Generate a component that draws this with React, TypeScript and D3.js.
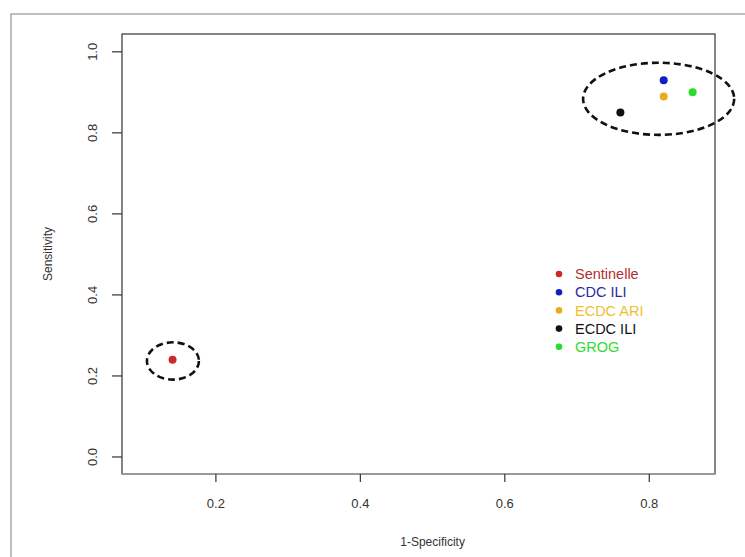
import React from "react";
import * as d3 from "d3";

const width = 745;
const height = 557;
const margin = { top: 34, right: 30, bottom: 83, left: 122 };

// points
const names = ["Sentinelle", "CDC ILI", "ECDC ARI", "ECDC ILI", "GROG"];
const specificity = [0.14, 0.82, 0.82, 0.76, 0.86];
const sensitivity = [0.24, 0.93, 0.89, 0.85, 0.9];
const pointColors = ["#cc2a2a", "#1020c8", "#e8ac1c", "#111111", "#28dc28"];
const labelColors = ["#b03030", "#2a2aa0", "#f0c030", "#111111", "#30dd30"];

// dashed ellipses around the groups (centre and radii in data units)
const ellipseCx = [0.1405, 0.813];
const ellipseCy = [0.237, 0.884];
const ellipseRx = [0.036, 0.1046];
const ellipseRy = [0.046, 0.089];

const xTicks = [0.2, 0.4, 0.6, 0.8];
const yTicks = [0, 0.2, 0.4, 0.6, 0.8, 1.0];

const xScale = d3
  .scaleLinear()
  .domain([0.07, 0.891])
  .range([margin.left, width - margin.right]);
const yScale = d3
  .scaleLinear()
  .domain([-0.042, 1.044])
  .range([height - margin.bottom, margin.top]);

const font = "'Liberation Sans', Arial, sans-serif";

export default function App() {
  const x0 = margin.left;
  const x1 = width - margin.right;
  const y0 = height - margin.bottom;
  const y1 = margin.top;
  return (
    <svg
      width={width}
      height={height}
      style={{ position: "absolute", left: 0, top: 0, background: "#fff" }}
    >
      {/* outer frame */}
      <rect x={11} y={14} width={width} height={height} fill="none" stroke="#a8a8a8" strokeWidth={1.5} />

      {/* plot box */}
      <rect x={x0} y={y1} width={x1 - x0} height={y0 - y1} fill="none" stroke="#333" strokeWidth={1.2} />
      <line x1={x0} x2={x1} y1={y0} y2={y0} stroke="#999" strokeWidth={2} />

      {/* x axis */}
      {xTicks.map((t) => (
        <g key={"x" + t}>
          <line x1={xScale(t)} x2={xScale(t)} y1={y0} y2={y0 + 8} stroke="#333" strokeWidth={1.2} />
          <text
            x={xScale(t)}
            y={y0 + 34}
            textAnchor="middle"
            fontFamily={font}
            fontSize={13}
            fill="#333"
          >
            {t.toFixed(1)}
          </text>
        </g>
      ))}
      <text x={(xScale(0.2) + xScale(0.8)) / 2} y={546} textAnchor="middle" fontFamily={font} fontSize={12} fill="#333">
        1-Specificity
      </text>

      {/* y axis */}
      {yTicks.map((t) => (
        <g key={"y" + t}>
          <line x1={x0} x2={x0 - 10} y1={yScale(t)} y2={yScale(t)} stroke="#333" strokeWidth={1.2} />
          <text
            transform={`translate(${x0 - 30},${yScale(t)}) rotate(-90)`}
            textAnchor="middle"
            dy="0.35em"
            fontFamily={font}
            fontSize={13}
            fill="#333"
          >
            {t.toFixed(1)}
          </text>
        </g>
      ))}
      <text
        transform={`translate(48,${(y0 + y1) / 2}) rotate(-90)`}
        textAnchor="middle"
        dy="0.35em"
        fontFamily={font}
        fontSize={12}
        fill="#333"
      >
        Sensitivity
      </text>

      {/* ellipses */}
      {ellipseCx.map((cx, i) => (
        <ellipse
          key={"e" + i}
          cx={xScale(cx)}
          cy={yScale(ellipseCy[i])}
          rx={xScale(cx + ellipseRx[i]) - xScale(cx)}
          ry={yScale(ellipseCy[i] - ellipseRy[i]) - yScale(ellipseCy[i])}
          fill="none"
          stroke="#111"
          strokeWidth={2.6}
          strokeDasharray="7 4"
        />
      ))}

      {/* points */}
      {names.map((n, i) => (
        <circle
          key={n}
          cx={xScale(specificity[i])}
          cy={yScale(sensitivity[i])}
          r={4}
          fill={pointColors[i]}
        />
      ))}

      {/* legend */}
      {names.map((n, i) => (
        <g key={"l" + n} transform={`translate(559,${274 + i * 18.2})`}>
          <circle cx={0} cy={0} r={3.3} fill={pointColors[i]} />
          <text x={16} y={0} dy="0.36em" fontFamily={font} fontSize={14.5} fill={labelColors[i]}>
            {n}
          </text>
        </g>
      ))}
    </svg>
  );
}
